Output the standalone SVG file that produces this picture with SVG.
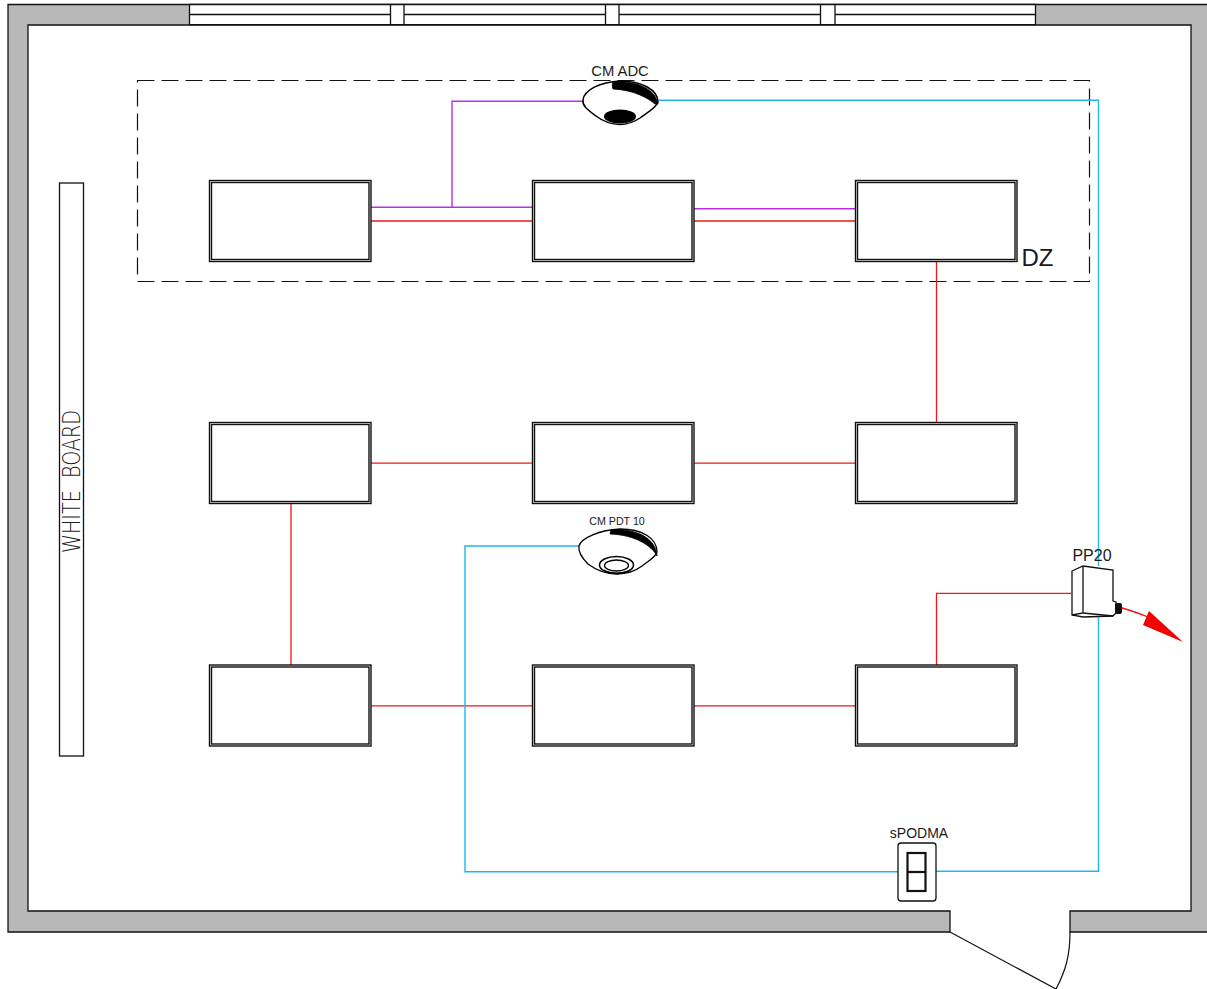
<svg xmlns="http://www.w3.org/2000/svg" width="1207" height="989" viewBox="0 0 1207 989">
<defs>
<style>
.t{font-family:"Liberation Sans",Arial,sans-serif;fill:#1a1a1a}
.k{fill:none;stroke:#111;stroke-width:1.3}
.panel{fill:#fff;stroke:#111;stroke-width:1.4}
.r{fill:none;stroke:#f01818;stroke-width:1.3}
.p{fill:none;stroke:#b92ee8;stroke-width:1.4}
.b{fill:none;stroke:#1cb8ee;stroke-width:1.4}
.w{fill:#fff;stroke:#111;stroke-width:1.3}
</style>
<g id="panelShape">
<rect class="panel" x="0" y="0" width="161.500" height="81"/>
<rect class="panel" x="2" y="2" width="157.500" height="77"/>
</g>
</defs>
<g id="walls">
<path d="M8 4H1207V932H1070V911H1191V25H28V911H950V932H8Z" fill="#b8b8b8"/>
<path class="k" d="M1207 4.500H8V932H950V911H28V25H1191V911H1070V932H1207"/>
</g>
<g id="windows">
<rect x="189.500" y="4.500" width="846" height="20.500" fill="#fff"/>
<path class="k" d="M189 4.500H1036M189 24.700H1036M190 14.500H390M404 14.500H605M619 14.500H820M835 14.500H1035M189.500 4V25M390.500 4V25M404 4V25M605.500 4V25M619 4V25M820.500 4V25M835 4V25M1035.500 4V25"/>
</g>
<g id="whiteboard">
<rect class="w" x="59.500" y="183" width="24" height="573"/>
<text class="t" transform="translate(79.500 553) rotate(-90)" font-size="25" textLength="143" lengthAdjust="spacingAndGlyphs" style="font-family:'DejaVu Sans',sans-serif;font-weight:200">WHITE&#160;&#160;BOARD</text>
</g>
<g id="dz-zone">
<rect x="137.500" y="80.500" width="952" height="201" fill="none" stroke="#111" stroke-width="1.2" stroke-dasharray="17 7"/>
<text class="t" x="1021.500" y="265.500" font-size="24">DZ</text>
</g>
<g id="connectors">
<path class="p" d="M371 207.200H533M452 207.200V101.200H584M694 208.800H856"/>
<path class="r" d="M371 221H533M694 221H856M936.500 262V423M371 463.200H533M694 463.200H856M291 504V665M371 705.800H533M694 705.800H856M936.500 665V593.300H1071"/>
<path class="b" d="M658 100.300H1098.500V566M1098.500 616V871.300H936M898 871.700H465V546H579"/>
</g>
<g id="panel-1"><use href="#panelShape" x="209.500" y="180.500"/></g>
<g id="panel-2"><use href="#panelShape" x="532.500" y="180.500"/></g>
<g id="panel-3"><use href="#panelShape" x="855.500" y="180.500"/></g>
<g id="panel-4"><use href="#panelShape" x="209.500" y="422.500"/></g>
<g id="panel-5"><use href="#panelShape" x="532.500" y="422.500"/></g>
<g id="panel-6"><use href="#panelShape" x="855.500" y="422.500"/></g>
<g id="panel-7"><use href="#panelShape" x="209.500" y="665"/></g>
<g id="panel-8"><use href="#panelShape" x="532.500" y="665"/></g>
<g id="panel-9"><use href="#panelShape" x="855.500" y="665"/></g>
<g id="cm-adc">
<text class="t" x="620" y="75.500" font-size="14.800" text-anchor="middle">CM ADC</text>
<path d="M583 100C584 90 600 82 620 81C642 81 658 90 658 102C656 108 648 112 640 118C634 122 626 124.500 620 124.500C612 124.500 604 122 596 116C588 110 582 106 583 100Z" fill="#fff" stroke="#000" stroke-width="1.5"/>
<path d="M613 82C638 80 656 90 658 104L655 104C648 98 634 90 613 89C612 86 612 84 613 82Z" fill="#000" stroke="#000" stroke-width=".8"/>
<ellipse cx="620" cy="116.500" rx="16" ry="7" fill="#000"/>
</g>
<g id="cm-pdt">
<text class="t" x="617" y="525" font-size="10.700" text-anchor="middle">CM PDT 10</text>
<path d="M579 546C581 538 600 530 620 529C642 529 657 538 657 552C655 558 648 561 642 566C634 572 626 574 617 574C606 574 596 570 588 564C582 558 578 552 579 546Z" fill="#fff" stroke="#000" stroke-width="1.3"/>
<path d="M611 530C636 528 656 538 657 556C652 546 636 535 610 534Z" fill="#000" stroke="#000" stroke-width=".8"/>
<ellipse cx="616.500" cy="565" rx="17" ry="8.500" fill="#fff" stroke="#000" stroke-width="1.5"/>
<ellipse cx="616.500" cy="565.500" rx="12" ry="5.500" fill="#fff" stroke="#000" stroke-width="1.3"/>
<path d="M604 570C608 574 626 574 630 570" fill="none" stroke="#000" stroke-width="1.2"/>
</g>
<g id="pp20">
<text class="t" x="1092" y="561" font-size="16" text-anchor="middle">PP20</text>
<path d="M1072 571L1083 566L1113 570V601L1116 602V613L1113 616L1083 617L1072 615Z" fill="#fff" stroke="#111" stroke-width="1.3"/>
<path d="M1083 566V613L1072 615M1083 613L1113 616" fill="none" stroke="#111" stroke-width="1.3"/>
<rect x="1115" y="603" width="7" height="11" rx="2" fill="#111"/>
<path d="M1122 608C1130 610 1138 613 1148 617" fill="none" stroke="#f01010" stroke-width="1.3"/>
<path d="M1149 611L1183 642L1143 625Z" fill="#f40000"/>
</g>
<g id="spodma">
<text class="t" x="919" y="837.500" font-size="14" text-anchor="middle">sPODMA</text>
<rect x="898" y="843" width="38" height="58" rx="3" fill="#fff" stroke="#111" stroke-width="1.3"/>
<rect x="907.500" y="853" width="18" height="38" fill="#fff" stroke="#111" stroke-width="2.200"/>
<path d="M907.500 872H925.500" stroke="#111" stroke-width="2.200"/>
</g>
<g id="door">
<path d="M950 932L1056 989C1066 970 1070 955 1070 932" fill="none" stroke="#111" stroke-width="1.2"/>
</g>
</svg>
